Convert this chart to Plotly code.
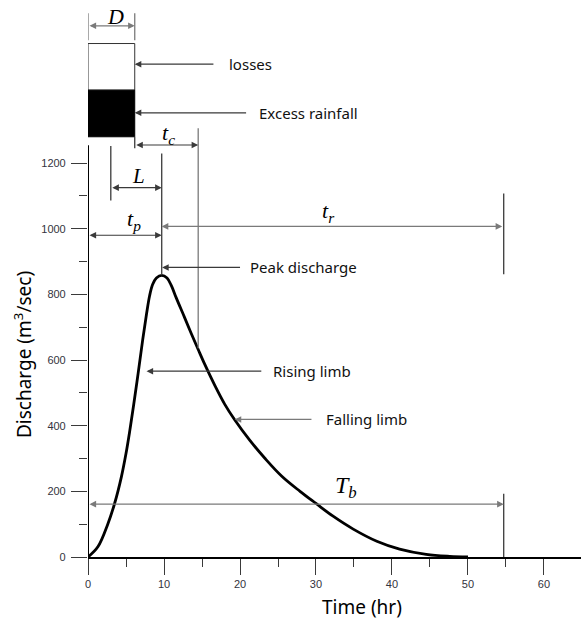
import plotly.graph_objects as go

# Hydrograph data
time_hr = [0, 1.3, 2.6, 3.5, 4.4, 5.0, 5.5, 6.0, 6.6, 7.2, 7.7, 8.1, 8.5, 9.0, 9.7,
           10.4, 11.0, 11.6, 12.7, 13.6, 14.5, 15.4, 16.7, 18.0, 19.3, 21.3, 23.3,
           25.5, 27.9, 30.0, 32.2, 34.9, 38.0, 41.0, 44.5, 47.6, 50.0]
discharge = [0, 31, 100, 163, 245, 315, 385, 462, 560, 662, 740, 795, 830, 850, 858,
             850, 825, 790, 730, 680, 632, 585, 522, 465, 418, 355, 300,
             246, 200, 163, 125, 85, 48, 24, 8, 2, 0]

# Key times (hr)
rain_duration = 6.15   # D
lag_start = 3.0        # start of L (centroid of excess rainfall)
peak_time = 9.7        # t_p
tc_end = 14.5          # end of t_c
base_end = 54.7        # end of T_b / t_r
peak_q = 858

x_ticks = [0, 10, 20, 30, 40, 50, 60]
x_minor = [5, 15, 25, 35, 45, 55]
y_ticks = [0, 200, 400, 600, 800, 1000, 1200]
y_minor = [100, 300, 500, 700, 900, 1100]

DARK = "#3a3a3a"
GRAY = "#7a7a7a"

fig = go.Figure()
fig.add_trace(go.Scatter(x=time_hr, y=discharge, mode="lines",
                         line=dict(color="black", width=2.8, shape="spline", smoothing=1.0),
                         hoverinfo="skip", showlegend=False))

shapes = []
def vline(x, y0, y1, color=DARK, w=1.3):
    shapes.append(dict(type="line", xref="x", yref="y", x0=x, x1=x, y0=y0, y1=y1,
                       line=dict(color=color, width=w)))

# y axis line (shortened)
vline(0, 0, 1254, "black", 2)
# rainfall block
shapes.append(dict(type="rect", xref="x", yref="y", x0=0, x1=rain_duration, y0=1422, y1=1564,
                   line=dict(color="#333", width=1), fillcolor="white"))
shapes.append(dict(type="rect", xref="x", yref="y", x0=0, x1=rain_duration, y0=1280, y1=1422,
                   line=dict(color="black", width=1), fillcolor="black"))
# D ticks
vline(0, 1574, 1656, GRAY)
vline(rain_duration, 1574, 1656, GRAY)
vline(rain_duration, 1245, 1280, DARK)
# t_c line
vline(tc_end, 636, 1306, GRAY)
# L start line
vline(lag_start, 1086, 1252, DARK)
# peak line
vline(peak_time, peak_q, 1229, DARK)
# t_r end line
vline(base_end, 861, 1107, DARK)
# T_b end line
vline(base_end, 0, 193, DARK)

annotations = []
def arrow(x_from, x_to, y, double=False, color=DARK):
    annotations.append(dict(x=x_to, y=y, ax=x_from, ay=y, xref="x", yref="y",
                            axref="x", ayref="y", text="", showarrow=True,
                            arrowhead=2, startarrowhead=2, arrowsize=1.1, startarrowsize=1.1,
                            arrowwidth=1.2, arrowcolor=color,
                            arrowside="end+start" if double else "end",
                            standoff=0, startstandoff=0))

arrow(0, rain_duration, 1618, True, GRAY)
arrow(16.7, rain_duration, 1501)
arrow(21.0, rain_duration, 1353)
arrow(rain_duration, tc_end, 1255, True)
arrow(lag_start, peak_time, 1125, True)
arrow(0, peak_time, 980, True)
arrow(base_end, peak_time, 1007, True, GRAY)
arrow(20.2, peak_time + 0.05, 882)
arrow(23.0, 7.7, 566)
arrow(29.6, 19.3, 419, False, GRAY)
arrow(0, base_end, 161, True, GRAY)

SERIF = "Liberation Serif"
def label(x, y, text, size=22, family=SERIF, xanchor="center", color="black"):
    annotations.append(dict(x=x, y=y, xref="x", yref="y", text=text, showarrow=False,
                            xanchor=xanchor, yanchor="middle",
                            font=dict(family=family, size=size, color=color)))

label(3.6, 1645, "<i>D</i>", 22)
label(10.6, 1288, "<i>t</i><sub><i>c</i></sub>", 22)
label(6.6, 1160, "<i>L</i>", 21)
label(6.1, 1025, "<i>t</i><sub><i>p</i></sub>", 22)
label(31.6, 1052, "<i>t</i><sub><i>r</i></sub>", 22)
label(33.9, 214, "<i>T</i><sub><i>b</i></sub>", 24)

SANS = "Noto Sans"
label(18.3, 1501, "losses", 15, SANS, "left", "#111")
label(22.2, 1353, "Excess rainfall", 15, SANS, "left", "#111")
label(21.0, 882, "Peak discharge", 15, SANS, "left", "#111")
label(24.1, 566, "Rising limb", 15, SANS, "left", "#111")
label(31.0, 419, "Falling limb", 15, SANS, "left", "#111")

# axis titles
annotations.append(dict(x=36.0, y=-0.09, xref="x", yref="paper", text="Time (hr)",
                        showarrow=False, xanchor="center", yanchor="middle",
                        font=dict(family=SANS, size=19, color="black")))
annotations.append(dict(x=-0.132, y=618, xref="paper", yref="y",
                        text="Discharge (m<sup>3</sup>/sec)", textangle=-90,
                        showarrow=False, xanchor="center", yanchor="middle",
                        font=dict(family=SANS, size=19, color="black")))

tickfont = dict(family="Liberation Sans", size=11, color="#333340")
fig.update_layout(
    width=581, height=625,
    margin=dict(l=88, r=0, t=2, b=68),
    plot_bgcolor="white", paper_bgcolor="white",
    shapes=shapes, annotations=annotations,
    xaxis=dict(range=[0, 64.87], tickmode="array", tickvals=x_ticks,
               ticktext=[str(v) for v in x_ticks],
               ticks="outside", ticklen=16, tickwidth=1.3, tickcolor=DARK,
               showline=True, linecolor="black", linewidth=2, showgrid=False, zeroline=False,
               tickfont=tickfont,
               minor=dict(tickmode="array", tickvals=x_minor, ticks="outside", ticklen=8,
                          tickwidth=1.3, tickcolor=DARK, showgrid=False)),
    yaxis=dict(range=[0, 1690.5], tickmode="array", tickvals=y_ticks,
               ticktext=[str(v) + "\u00a0" for v in y_ticks],
               ticks="outside", ticklen=16, tickwidth=1.3, tickcolor=DARK,
               showline=False, showgrid=False, zeroline=False,
               tickfont=tickfont,
               minor=dict(tickmode="array", tickvals=y_minor, ticks="outside", ticklen=8,
                          tickwidth=1.3, tickcolor=DARK, showgrid=False)),
)

fig.write_html("out.html", config={"displayModeBar": False},
               post_script="document.body.style.margin='0';document.body.style.padding='0';")
